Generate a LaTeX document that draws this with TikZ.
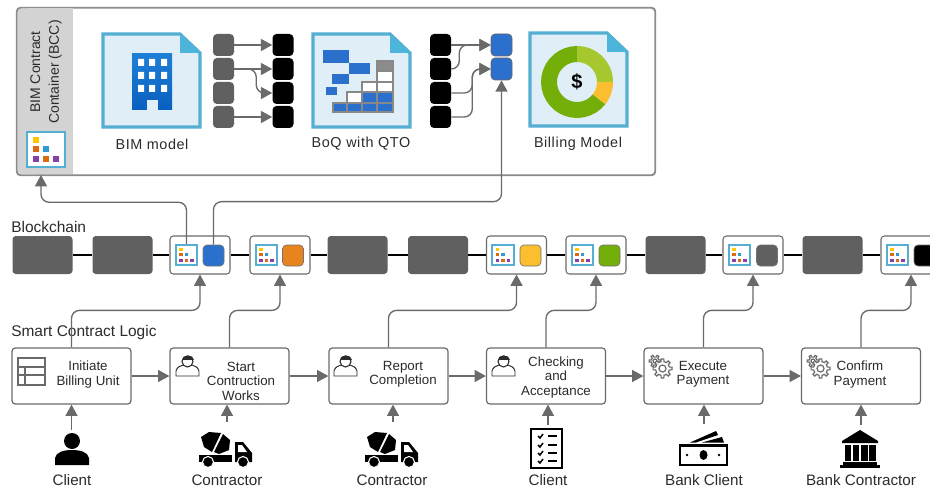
\documentclass[tikz,border=0pt]{standalone}
\usepackage{xcolor}
\usepackage{fontspec}
\setmainfont{Liberation Sans}
\usetikzlibrary{arrows.meta, positioning, calc}
\definecolor{linegray}{HTML}{6A6A6A}
\definecolor{blockgray}{HTML}{606060}
\definecolor{bandgray}{HTML}{D3D3D3}
\definecolor{framegray}{HTML}{8C8C8C}
\definecolor{docfill}{HTML}{DFEEF7}
\definecolor{docedge}{HTML}{55AFD3}
\definecolor{docfold}{HTML}{4DB5DC}
\definecolor{chipblue}{HTML}{2A70CC}
\definecolor{chiporange}{HTML}{E8841E}
\definecolor{chipyellow}{HTML}{FBBE2E}
\definecolor{chipgreen}{HTML}{74AE08}
\definecolor{lightgreen}{HTML}{A6C82E}
\definecolor{towertop}{HTML}{1E7FD6}
\definecolor{towerfoot}{HTML}{0A5FC0}
\definecolor{markyellow}{HTML}{FFC800}
\definecolor{markorange}{HTML}{DD6A10}
\definecolor{markblue}{HTML}{2E9BD6}
\definecolor{markpurple}{HTML}{8A3FA8}
\definecolor{inktext}{HTML}{2B2B2B}
\newcommand{\donutpart}[3]{%
    \fill[#3] plot[domain=#1:#2,samples=24] (\x:36) -- plot[domain=#2:#1,samples=24] (\x:20) -- cycle;
}
\tikzset{
x=0.75pt, y=-0.75pt,
text=inktext,
base/.style={%
    rectangle,
    inner sep=0pt,
    align=center,
    font=\fontsize{10}{10.9}\selectfont
},
box/.style={%
    base,
    minimum width=89.25pt,
    minimum height=42pt,
    rounded corners=2.5pt,
    draw=linegray,
    line width=0.9pt,
    fill=white
},
boxtext/.style={base},
caption/.style={base, font=\fontsize{11.6}{13}\selectfont, anchor=west},
doctext/.style={base, font=\fontsize{10.8}{13}\addfontfeature{LetterSpace=4}\selectfont},
roletext/.style={base, font=\fontsize{11.4}{11.4}\selectfont},
gblock/.style={%
    base,
    minimum width=45pt,
    minimum height=28.5pt,
    rounded corners=2.5pt,
    fill=blockgray
},
wblock/.style={gblock, fill=white, draw=linegray, line width=0.8pt},
square/.style={%
    base,
    minimum size=15.75pt,
    rounded corners=3pt,
    draw=black!55,
    line width=0.5pt
},
tile/.style={%
    base,
    minimum width=15.75pt,
    minimum height=16.5pt,
    rounded corners=3pt
},
spot/.style={base, minimum size=15.75pt},
conn/.style={%
    draw=linegray,
    line width=1pt,
    rounded corners=6pt,
    -{Triangle[length=8.5pt,width=9pt]}
},
chain/.style={draw=black, line width=1.8pt},
elbow/.style={to path={-- ++(#1,0) |- (\tikztotarget)}},
riser/.style={to path={-- ++(0,#1) -| (\tikztotarget)}},
bccmark/.pic={
    \draw[docedge, line width=1.6pt, fill=white] (-19,-17.5) rectangle (19,17.5);
    \fill[markyellow] (-13,-12.5) rectangle (-7,-6.5);
    \fill[markorange] (-13,-3.5) rectangle (-7,2.5);
    \fill[markblue] (-3,-3.5) rectangle (3,2.5);
    \fill[markpurple] (-13,6.5) rectangle (-7,12.5);
    \fill[markorange] (-3,6.5) rectangle (3,12.5);
    \fill[markpurple] (7,6.5) rectangle (13,12.5);
},
docpage/.pic={
    \draw[docedge, line width=2.4pt, fill=docfill] (0,0) -- (77,0) -- (97,19) -- (97,93) -- (0,93) -- cycle;
    \fill[docfold] (77,0) -- (97,19) -- (77,19) -- cycle;
},
client/.pic={
    \fill[black] (17,8) circle (8);
    \fill[black] (0,32) -- (0,25) .. controls (1,19) and (9,17) .. (17,17) .. controls (25,17) and (33,19) .. (34,25) -- (34,32) -- cycle;
},
mixer/.pic={
    \fill[black] (2,6) -- (10,1) -- (22,2) -- (13,21) -- (5,16) -- cycle;
    \fill[black] (24,3) -- (31,9) -- (30,19) -- (20,23) -- (15,21) -- cycle;
    \fill[black] (0,24) rectangle (33,31);
    \fill[black] (36,11) -- (44,11) -- (53,22) -- (53,31) -- (36,31) -- cycle;
    \fill[white] (39,14) -- (43,14) -- (48,21) -- (39,21) -- cycle;
    \filldraw[black, draw=white, line width=0.8pt] (9,31) circle (5.5);
    \filldraw[black, draw=white, line width=0.8pt] (44,31) circle (5.5);
},
checklist/.pic={
    \draw[black, line width=1.7pt, fill=white] (0,0) rectangle (31,39);
    \draw[black, line width=1.1pt] (7,7) -- (9,9) -- (12,5);
    \draw[black, line width=1.1pt] (7,16) -- (9,18) -- (12,14);
    \draw[black, line width=1.1pt] (7,24) -- (9,26) -- (12,22);
    \draw[black, line width=1.1pt] (7,32) -- (9,34) -- (12,30);
    \draw[black, line width=1.4pt] (17,7) -- (26,7);
    \draw[black, line width=1.4pt] (17,16) -- (26,16);
    \draw[black, line width=1.4pt] (17,24) -- (26,24);
    \draw[black, line width=1.4pt] (17,32) -- (26,32);
},
cash/.pic={
    \draw[black, line width=2.2pt, fill=white] (1,14.5) rectangle (48,34);
    \fill[black] (24.5,24) ellipse (4 and 5);
    \fill[black] (8,24) circle (1.3);
    \fill[black] (40,24) circle (1.3);
    \fill[black] (11,11.5) -- (37,0) -- (39,4) -- (17,11.5) -- cycle;
    \fill[black] (23,11.5) -- (43,6) -- (45,11.5) -- cycle;
},
bank/.pic={
    \fill[black] (20,0) -- (38,11) -- (38,13) -- (2,13) -- (2,11) -- cycle;
    \fill[black] (4.5,15) rectangle (11,31);
    \fill[black] (12.5,15) rectangle (19,31);
    \fill[black] (21,15) rectangle (27.5,31);
    \fill[black] (29,15) rectangle (35.5,31);
    \fill[black] (3,32) rectangle (37,35);
    \fill[black] (0,35) rectangle (40,38);
},
ledger/.pic={
    \draw[linegray, line width=0.8pt] (0,0) rectangle (27,27);
    \draw[linegray, line width=0.8pt] (0,9) -- (27,9);
    \draw[linegray, line width=0.8pt] (0,17) -- (27,17);
    \draw[linegray, line width=0.8pt] (7,9) -- (7,27);
},
worker/.pic={
    \draw[inktext, line width=0.7pt, fill=white] (0,21) -- (0,16) .. controls (1,12) and (4,11) .. (7,10) -- (16,10) .. controls (19,11) and (22,12) .. (23,16) -- (23,21) -- cycle;
    \draw[inktext, line width=0.8pt, fill=white] (11.5,6.5) circle (5.5);
    \fill[inktext] (5.5,5) .. controls (5.5,-1) and (17.5,-1) .. (17.5,5) -- cycle;
},
gears/.pic={
    \draw[linegray, line width=0.9pt, fill=white, shift={(6,6)}] (-15:4) \foreach \a in {0,60,...,300} {-- (\a-15:4) -- (\a-10:6) -- (\a+10:6) -- (\a+15:4) -- (\a+45:4)} -- cycle;
    \draw[linegray, line width=0.9pt] (6,6) circle (2);
    \draw[linegray, line width=0.9pt, fill=white, shift={(13.5,13.5)}] (-12:7) \foreach \a in {0,45,...,315} {-- (\a-12:7) -- (\a-8:9.5) -- (\a+8:9.5) -- (\a+12:7) -- (\a+33:7)} -- cycle;
    \draw[linegray, line width=0.9pt] (13.5,13.5) circle (3.5);
},
}

\begin{document}
\begin{tikzpicture}
	\path[use as bounding box, clip] (0,0) rectangle (930,488);

	% container
	\node[base, minimum width=478.5pt, minimum height=125.25pt, rounded corners=3pt, draw=framegray, line width=0.9pt, fill=white] (bcc) at (336,91.5) {};
	\fill[bandgray, rounded corners=3pt] (17.5,8.5) rectangle (40,174.5);
	\fill[bandgray] (28,8.5) rectangle (73,174.5);
	\draw[framegray, rounded corners=3pt, line width=0.9pt] (bcc.north west) rectangle (bcc.south east);
	\node[base, rotate=90, font=\fontsize{10.5}{14}\selectfont] (bcctitle) at (46,72) {BIM Contract\\Container (BCC)};
	\pic at (46,149.5) {bccmark};
	\coordinate (bcctip) at (41,175);

	% models
	\pic at (103,34) {docpage};
	\shade[top color=towertop, bottom color=towerfoot] (132,54) rectangle (172,110);
	\fill[white] (138,59) rectangle (144,66) (149,59) rectangle (155,66) (161,59) rectangle (167,66);
	\fill[white] (138,72) rectangle (144,79) (149,72) rectangle (155,79) (161,72) rectangle (167,79);
	\fill[white] (138,85) rectangle (144,92) (149,85) rectangle (155,92) (161,85) rectangle (167,92);
	\fill[docfill] (147,100) rectangle (158,110);
	\node[doctext] (bimlabel) at (152,144) {BIM model};

	\pic at (313,34) {docpage};
	\fill[chipblue] (323,50) rectangle (349,63);
	\fill[chipblue] (349,63) rectangle (370,74);
	\fill[chipblue] (332,74) rectangle (349,84);
	\fill[chipblue] (326,87) rectangle (337,95);
	\draw[linegray!80, line width=1.3pt, fill=black!45] (377,61) rectangle (393,71);
	\draw[linegray!80, line width=1.3pt, fill=white] (377,71) rectangle (393,82);
	\draw[linegray!80, line width=1.3pt, fill=white] (377,82) rectangle (393,92);
	\draw[linegray!80, line width=1.3pt, fill=chipblue] (377,92) rectangle (393,103);
	\draw[linegray!80, line width=1.3pt, fill=chipblue] (377,103) rectangle (393,112);
	\draw[linegray!80, line width=1.3pt, fill=white] (362,82) rectangle (377,92);
	\draw[linegray!80, line width=1.3pt, fill=chipblue] (362,92) rectangle (377,103);
	\draw[linegray!80, line width=1.3pt, fill=chipblue] (362,103) rectangle (377,112);
	\draw[linegray!80, line width=1.3pt, fill=white] (347,92) rectangle (362,103);
	\draw[linegray!80, line width=1.3pt, fill=chipblue] (347,103) rectangle (362,112);
	\draw[linegray!80, line width=1.3pt, fill=chipblue] (333,103) rectangle (347,112);
	\node[doctext] (boqlabel) at (361,144) {BoQ with QTO};

	\pic at (530,33) {docpage};
	\begin{scope}[shift={(577,82)}]
		\donutpart{38}{270}{chipgreen}
		\donutpart{270}{360}{lightgreen}
		\donutpart{0}{38}{chipyellow}
		\node[base, font=\fontsize{15}{15}\bfseries\selectfont, text=black] (dollar) at (0,0) {\$};
	\end{scope}
	\node[doctext] (billlabel) at (578,144) {Billing Model};

	% small blocks in the container
	\node[tile, fill=blockgray] (a1) at (223.5,45) {};
	\node[tile, fill=blockgray] (a2) at (223.5,69) {};
	\node[tile, fill=blockgray] (a3) at (223.5,93) {};
	\node[tile, fill=blockgray] (a4) at (223.5,117) {};
	\node[tile, fill=black] (b1) at (283,45) {};
	\node[tile, fill=black] (b2) at (283,69) {};
	\node[tile, fill=black] (b3) at (283,93) {};
	\node[tile, fill=black] (b4) at (283,117) {};
	\node[tile, fill=black] (c1) at (440.5,45) {};
	\node[tile, fill=black] (c2) at (440.5,69) {};
	\node[tile, fill=black] (c3) at (440.5,93) {};
	\node[tile, fill=black] (c4) at (440.5,117) {};
	\node[tile, fill=chipblue, draw=black!60, line width=0.5pt] (d1) at (501.5,45) {};
	\node[tile, fill=chipblue, draw=black!60, line width=0.5pt] (d2) at (501.5,69) {};

	\path (a1) edge[conn] (b1);
	\path (a2) edge[conn] (b2);
	\path (a2.east) edge[conn, elbow=22] (b3.west);
	\path (a4) edge[conn] (b4);
	\path (c1) edge[conn] (d1);
	\path (c2.east) edge[conn, elbow=8] (d1.west);
	\path (c3.east) edge[conn, elbow=21] (d2.west);
	\path (c4.east) edge[conn, elbow=21] (d2.west);

	% blockchain
	\node[caption] (chainlabel) at (11,227) {Blockchain};
	\node[gblock] (g1) at (42.5,255) {};
	\node[gblock] (g2) at (122.5,255) {};
	\node[wblock] (w1) at (200,255) {};
	\node[wblock] (w2) at (280,255) {};
	\node[gblock] (g3) at (357.5,255) {};
	\node[gblock] (g4) at (438,255) {};
	\node[wblock] (w3) at (516.5,255) {};
	\node[wblock] (w4) at (596,255) {};
	\node[gblock] (g5) at (675.5,255) {};
	\node[wblock] (w5) at (753,255) {};
	\node[gblock] (g6) at (832.5,255) {};
	\node[wblock] (w6) at (911,255) {};

	\path (g1) edge[chain] (g2);
	\path (g2) edge[chain] (w1);
	\path (w1) edge[chain] (w2);
	\path (w2) edge[chain] (g3);
	\path (g3) edge[chain] (g4);
	\path (g4) edge[chain] (w3);
	\path (w3) edge[chain] (w4);
	\path (w4) edge[chain] (g5);
	\path (g5) edge[chain] (w5);
	\path (w5) edge[chain] (g6);
	\path (g6) edge[chain] (w6);

	\node[spot] (m1) at (186.5,255) {};
	\node[spot] (m2) at (266.5,255) {};
	\node[spot] (m3) at (503,255) {};
	\node[spot] (m4) at (582.5,255) {};
	\node[spot] (m5) at (739.5,255) {};
	\node[spot] (m6) at (897.5,255) {};
	\pic[scale=0.56] at (m1) {bccmark};
	\pic[scale=0.56] at (m2) {bccmark};
	\pic[scale=0.56] at (m3) {bccmark};
	\pic[scale=0.56] at (m4) {bccmark};
	\pic[scale=0.56] at (m5) {bccmark};
	\pic[scale=0.56] at (m6) {bccmark};
	\node[square, fill=chipblue] (s1) at (213.5,255.5) {};
	\node[square, fill=chiporange] (s2) at (293,255.5) {};
	\node[square, fill=chipyellow] (s3) at (530.5,255.5) {};
	\node[square, fill=chipgreen] (s4) at (609.5,255.5) {};
	\node[square, fill=blockgray] (s5) at (767,255.5) {};
	\node[square, fill=black] (s6) at (924.5,255.5) {};

	\path (m1.north) edge[conn, riser=-42] (bcctip);
	\path (s1.north) edge[conn, riser=-43] (d2.south);

	% logic
	\node[caption] (logiclabel) at (11,332) {Smart Contract Logic};
	\node[box] (p1) at (71.5,376) {};
	\node[box] (p2) at (229.5,376) {};
	\node[box] (p3) at (388.5,376) {};
	\node[box] (p4) at (546,376) {};
	\node[box] (p5) at (703.5,376) {};
	\node[box] (p6) at (861,376) {};

	\node[boxtext] (t1) at (88,374.5) {Initiate\\Billing Unit};
	\node[boxtext] (t2) at (241,381) {Start\\Contruction\\Works};
	\node[boxtext] (t3) at (403,374.5) {Report\\Completion};
	\node[boxtext] (t4) at (556,377.5) {Checking\\and\\Acceptance};
	\node[boxtext] (t5) at (703,374.5) {Execute\\Payment};
	\node[boxtext] (t6) at (860,374.5) {Confirm\\Payment};

	\pic at (18,358) {ledger};
	\pic at (176,355) {worker};
	\pic at (334,355) {worker};
	\pic at (492,355) {worker};
	\pic at (649,355) {gears};
	\pic at (807,355) {gears};

	\path (p1) edge[conn] (p2);
	\path (p2) edge[conn] (p3);
	\path (p3) edge[conn] (p4);
	\path (p4) edge[conn] (p5);
	\path (p5) edge[conn] (p6);

	\path (p1.north) edge[conn, riser=-37] (w1.south);
	\path (p2.north) edge[conn, riser=-37] (w2.south);
	\path (p3.north) edge[conn, riser=-37] (w3.south);
	\path (p4.north) edge[conn, riser=-37] (w4.south);
	\path (p5.north) edge[conn, riser=-37] (w5.south);
	\path (p6.north) edge[conn, riser=-37] (w6.south);

	% actors
	\pic at (55,433) {client};
	\pic at (199,431) {mixer};
	\pic at (365,431) {mixer};
	\pic at (531,429) {checklist};
	\pic at (679,431) {cash};
	\pic at (840,430) {bank};

	\coordinate (u1) at (71.5,430);
	\coordinate (u2) at (227,422);
	\coordinate (u3) at (393,422);
	\coordinate (u4) at (548,425);
	\coordinate (u5) at (704,424);
	\coordinate (u6) at (861,425);
	\path (u1) edge[conn] (p1);
	\path (u2) edge[conn] (u2 |- p2.south);
	\path (u3) edge[conn] (u3 |- p3.south);
	\path (u4) edge[conn] (u4 |- p4.south);
	\path (u5) edge[conn] (u5 |- p5.south);
	\path (u6) edge[conn] (p6);

	\node[roletext] (r1) at (72,480) {Client};
	\node[roletext] (r2) at (227,480) {Contractor};
	\node[roletext] (r3) at (392,480) {Contractor};
	\node[roletext] (r4) at (548,480) {Client};
	\node[roletext] (r5) at (704,480) {Bank Client};
	\node[roletext] (r6) at (861,480) {Bank Contractor};
\end{tikzpicture}
\end{document}
